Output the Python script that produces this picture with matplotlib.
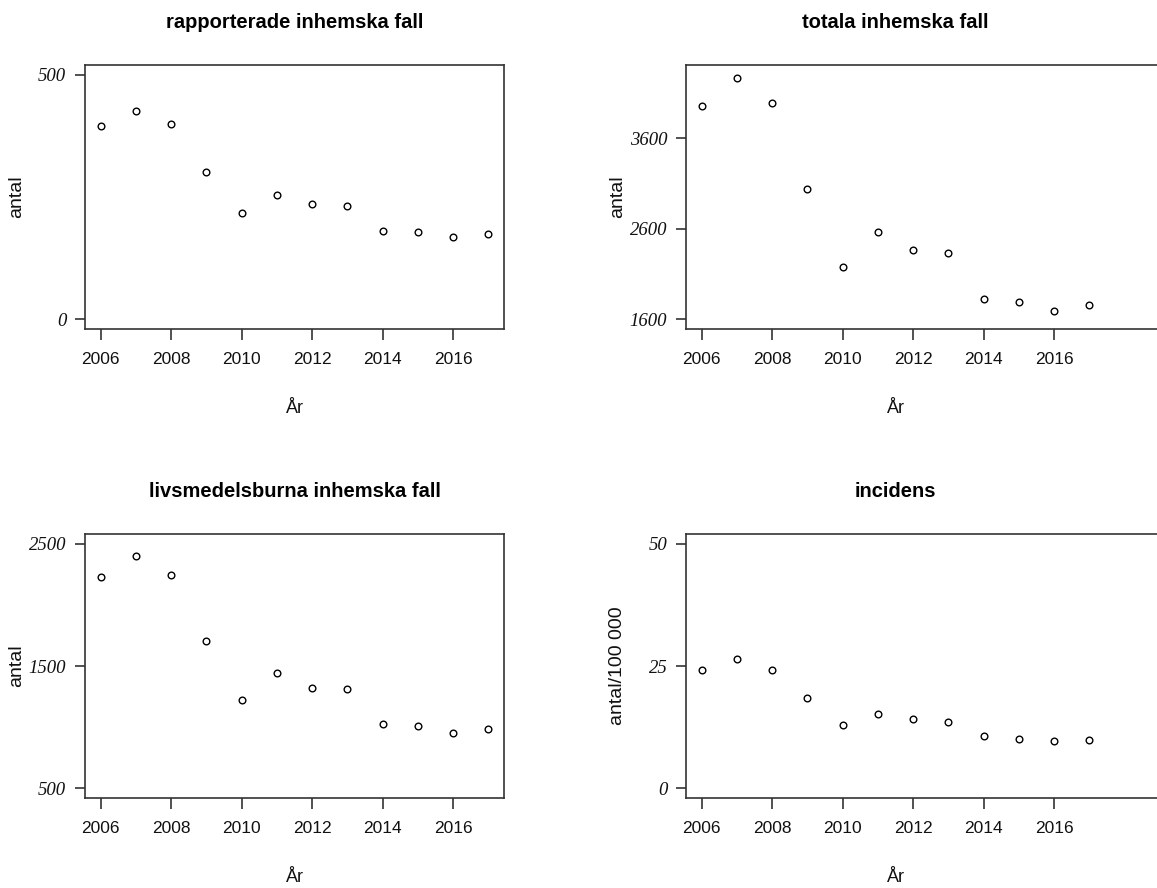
import numpy as np
import matplotlib
matplotlib.use("Agg")
import matplotlib.pyplot as plt
from matplotlib.transforms import ScaledTranslation, blended_transform_factory

# Yearly figures for domestic cases
years = [2006, 2007, 2008, 2009, 2010, 2011, 2012, 2013, 2014, 2015, 2016, 2017]
rapporterade = [395, 426, 399, 302, 217, 255, 235, 232, 181, 178, 169, 174]
totala = [3955, 4259, 3992, 3036, 2175, 2559, 2362, 2329, 1823, 1790, 1696, 1754]
livsmedel = [2225, 2396, 2247, 1705, 1221, 1439, 1324, 1308, 1022, 1006, 949, 984]
incidens = [24.2, 26.4, 24.2, 18.5, 12.9, 15.2, 14.1, 13.5, 10.7, 10.0, 9.6, 9.8]

titles = ["rapporterade inhemska fall", "totala inhemska fall",
          "livsmedelsburna inhemska fall", "incidens"]
ylabels = ["antal", "antal", "antal", "antal/100 000"]
ylims = [(0, 500), (1600, 4300), (500, 2500), (0, 50)]
yticks = [[0, 500], [1600, 2600, 3600], [500, 1500, 2500], [0, 25, 50]]
xticks = [2006, 2008, 2010, 2012, 2014, 2016]
xlabel = "År"

W, H, DPI = 1157, 888, 100
fig = plt.figure(figsize=(W / DPI, H / DPI), dpi=DPI)
fig.patch.set_facecolor("white")

INK = "#111111"
BOX = "#333333"
SANS = "Liberation Sans"
SERIF = "Liberation Serif"


def rect(left, top, width, height):
    return [left / W, 1 - (top + height) / H, width / W, height / H]


def r_range(lo, hi):
    pad = 0.04 * (hi - lo)
    return lo - pad, hi + pad


def px(dx, dy):
    return ScaledTranslation(dx / DPI, dy / DPI, fig.dpi_scale_trans)


series = [rapporterade, totala, livsmedel, incidens]
# (left, top, width) of each panel box in pixels; right column runs past the edge
layout = [(85, 65, 419), (686, 65, 514), (85, 534, 419), (686, 534, 514)]
BOX_H = 264
NOMINAL_W = 419

for i, (vals, (left, top, width)) in enumerate(zip(series, layout)):
    ax = fig.add_axes(rect(left, top, width, BOX_H))
    x0, x1 = r_range(min(years), max(years))
    x1_full = x0 + (x1 - x0) * width / NOMINAL_W
    ax.set_xlim(x0, x1_full)
    ax.set_ylim(*r_range(*ylims[i]))

    ax.plot(years, vals, linestyle="none", marker="o", markersize=4.8,
            markerfacecolor="none", markeredgecolor="black", markeredgewidth=1.0,
            clip_on=False)

    for s in ax.spines.values():
        s.set_color(BOX)
        s.set_linewidth(1.2)
    if width > NOMINAL_W:
        ax.spines["right"].set_visible(False)

    ax.set_xticks(xticks)
    ax.set_xticklabels([str(t) for t in xticks], fontfamily=SANS, fontsize=12.5, color=INK)
    ax.set_yticks(yticks[i])
    ax.set_yticklabels([str(t) for t in yticks[i]], fontfamily=SERIF, fontstyle="italic",
                       fontsize=13.5, color=INK)
    ax.tick_params(axis="x", direction="out", length=8, width=1.2, color=BOX, pad=8.5)
    ax.tick_params(axis="y", direction="out", length=7.2, width=1.2, color=BOX, pad=6.3)

    # title centred on the year range
    xmid = (x0 + x1) / 2
    bt = blended_transform_factory(ax.transData, ax.transAxes)
    ax.text(xmid, 1.0, titles[i], transform=bt + px(0, 43), ha="center", va="center",
            fontfamily=SANS, fontweight="bold", fontsize=14.5, color="black")
    ax.text(xmid, 0.0, xlabel, transform=bt + px(0, -79), ha="center", va="center",
            fontfamily=SANS, fontsize=13, color=INK)
    ax.text(0.0, 0.5, ylabels[i], transform=ax.transAxes + px(-68, 0), rotation=90,
            ha="center", va="center", fontfamily=SANS, fontsize=14, color=INK)

fig.savefig("out.png", dpi=DPI, facecolor="white")
